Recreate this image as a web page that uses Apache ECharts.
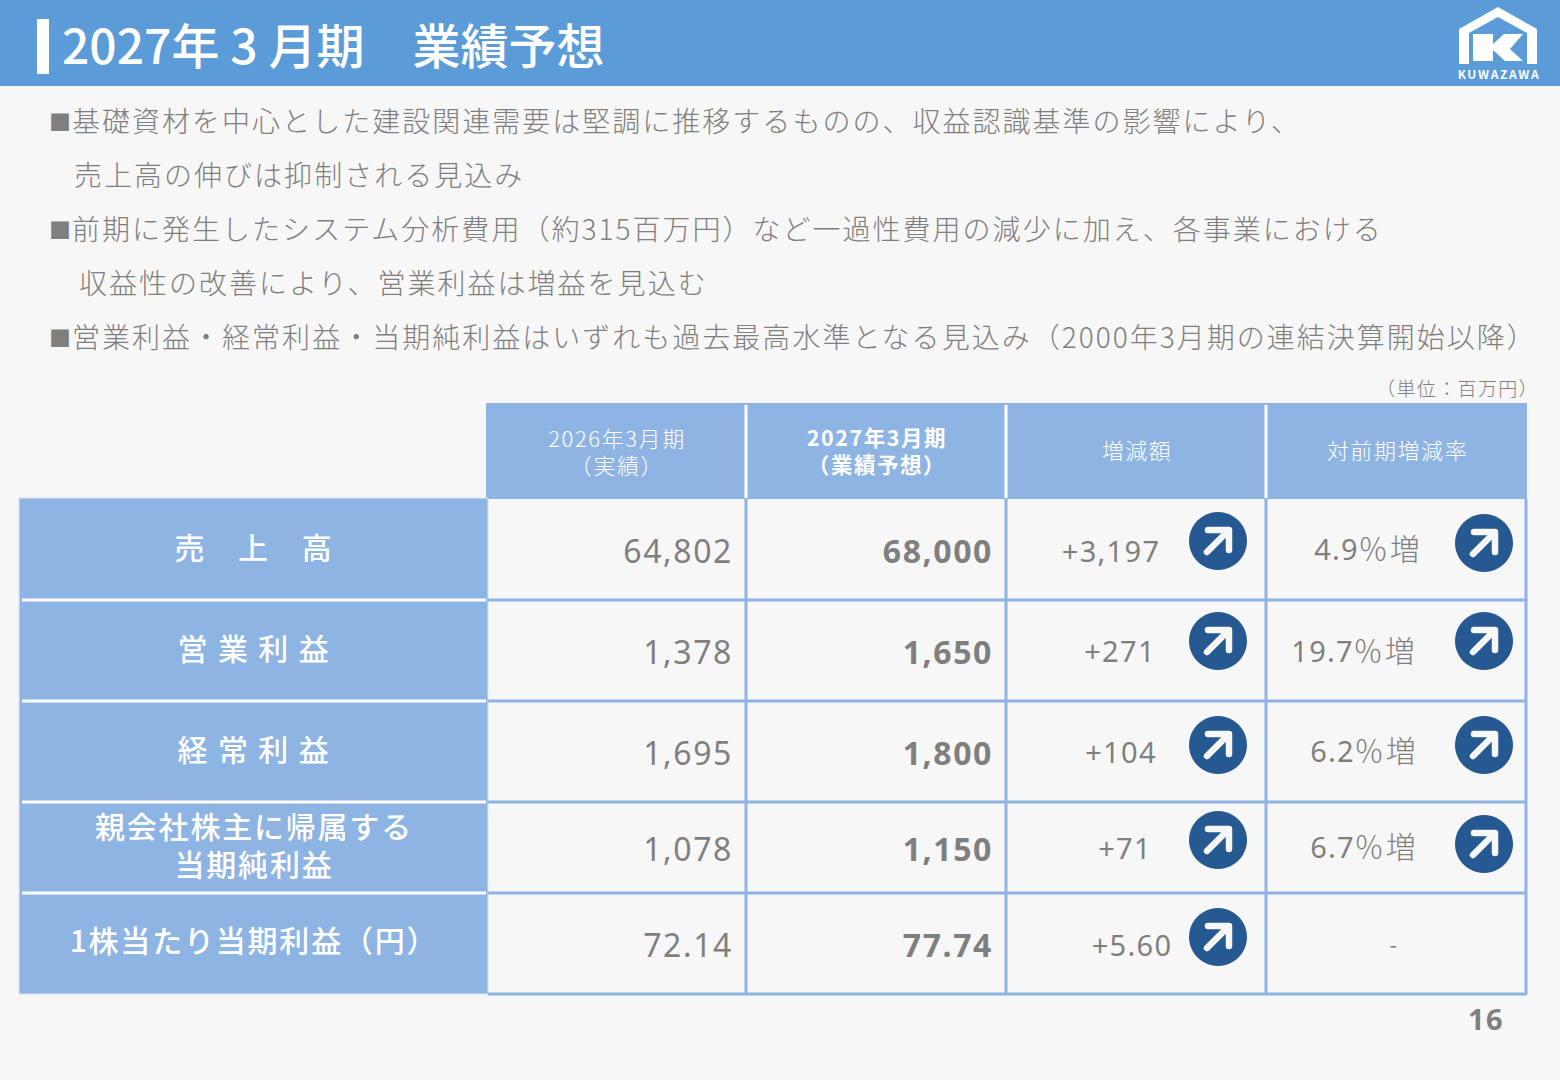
<!DOCTYPE html>
<html>
<head>
<meta charset="utf-8">
<style>
  html, body { margin: 0; padding: 0; background: #f7f7f7; }
  #main { width: 1560px; height: 1080px; }
  /* canvas has no tracking in zrender, the slide text is set with about 2px */
  #main text { letter-spacing: 0.072em; }
  #main text[style*="48px"] { letter-spacing: 0; }
  #main text[style*="32px"] { letter-spacing: 0.05em; }
  #main text[style*="29px"] { letter-spacing: 0.045em; }
  #main text[style*="30px"] { letter-spacing: 0.06em; }
  #main text[style*="12px"] { letter-spacing: 0.14em; }
</style>
<script src="https://cdn.jsdelivr.net/npm/echarts@6/dist/echarts.min.js"></script>
</head>
<body>
<div id="main"></div>
<script>
const title = '2027年 3 月期　業績予想';
const bullet = '■';
const bodyLines = [
  '基礎資材を中心とした建設関連需要は堅調に推移するものの、収益認識基準の影響により、',
  '売上高の伸びは抑制される見込み',
  '前期に発生したシステム分析費用（約315百万円）など一過性費用の減少に加え、各事業における',
  '収益性の改善により、営業利益は増益を見込む',
  '営業利益・経常利益・当期純利益はいずれも過去最高水準となる見込み（2000年3月期の連結決算開始以降）'
];
const unitLabel = '（単位：百万円）';
const headers = ['2026年3月期\n（実績）', '2027年3月期\n（業績予想）', '増減額', '対前期増減率'];
const rowLabels = ['売　上　高', '営 業 利 益', '経 常 利 益', '親会社株主に帰属する\n当期純利益', '1株当たり当期利益（円）'];
const actual = ['64,802', '1,378', '1,695', '1,078', '72.14'];
const forecast = ['68,000', '1,650', '1,800', '1,150', '77.74'];
const change = ['+3,197', '+271', '+104', '+71', '+5.60'];
const rate = ['4.9', '19.7', '6.2', '6.7'];
const rateUnit = '％増';
const rateNone = '-';
const pageNo = '16';

// layout, measured on the slide
const colX = [486, 746, 1006, 1266, 1527];
const rowY = [499, 600, 701, 802, 893, 994];
const changeX = [1111, 1120, 1121, 1125, 1132];
const changeY = [550, 650, 751, 847, 944];
const rateX = [1358, 1353, 1354, 1354];
const rateY = [548, 650, 750, 846];
const valueY = [550, 651, 752, 848, 944];
const arrowChange = [[1218, 541], [1218, 641], [1218, 745], [1218, 840], [1218, 937]];
const arrowRate = [[1484, 543], [1484, 641], [1484, 745], [1484, 844]];
const labelY = [546, 647, 748, 844, 939];
const bodyX = [72, 74, 72, 79, 72];

const JP = '"Noto Sans CJK JP", "Noto Sans", sans-serif';
const LATIN = '"Noto Sans", sans-serif';
const BLUE = '#8eb4e3';
const HEAD = '#5b9bd8';
const GREY = '#7f7f7f';

function text(str, x, y, size, opt) {
  opt = opt || {};
  return {
    type: 'text', silent: true, x: x, y: y,
    style: {
      text: str, fontFamily: opt.family || JP, fontSize: size, lineHeight: opt.lineHeight,
      fontWeight: opt.weight || 300, fill: opt.color || GREY,
      textAlign: opt.align || 'left', textVerticalAlign: 'middle'
    }
  };
}
function rect(x, y, w, h, fill) {
  return { type: 'rect', silent: true, shape: { x: x, y: y, width: w, height: h }, style: { fill: fill } };
}
function line(x1, y1, x2, y2, color, width) {
  return { type: 'line', silent: true, shape: { x1: x1, y1: y1, x2: x2, y2: y2 }, style: { stroke: color, lineWidth: width } };
}
function arrow(c) {
  const x = c[0], y = c[1];
  return [
    { type: 'circle', silent: true, shape: { cx: x, cy: y, r: 29 }, style: { fill: '#265891' } },
    { type: 'polyline', silent: true,
      shape: { points: [[x - 10, y - 11], [x + 11, y - 11], [x + 11, y + 9]] },
      style: { stroke: '#f7f7f7', lineWidth: 6.5, fill: null, lineCap: 'round', lineJoin: 'round' } },
    { type: 'line', silent: true,
      shape: { x1: x + 9, y1: y - 9, x2: x - 11, y2: y + 11 },
      style: { stroke: '#f7f7f7', lineWidth: 6.5, lineCap: 'round' } }
  ];
}

let els = [];

// title band
els.push(rect(0, 0, 1560, 86, HEAD));
els.push(rect(37, 19, 12, 55, '#ffffff'));
els.push(text(title, 62, 43, 48, { color: '#ffffff', weight: 500 }));

// logo
els.push({ type: 'polygon', silent: true,
  shape: { points: [[1459, 64], [1459, 29], [1498, 7], [1537, 29], [1537, 64], [1527, 64], [1527, 33], [1498, 17], [1469, 33], [1469, 64]] },
  style: { fill: '#ffffff' } });
els.push({ type: 'polygon', silent: true,
  shape: { points: [[1473, 34], [1493, 34], [1493, 44], [1504, 34], [1523, 34], [1510, 49], [1523, 61], [1505, 61], [1493, 50], [1493, 61], [1473, 61]] },
  style: { fill: '#ffffff' } });
els.push(text('KUWAZAWA', 1499, 73, 12, { color: '#ffffff', weight: 700, align: 'center' }));

// body text
bodyLines.forEach(function (s, i) {
  if (i % 2 === 0) els.push(text(bullet, 49, 120 + i * 54, 22));
  els.push(text(s, bodyX[i], 120 + i * 54, 28));
});
els.push(text(unitLabel, 1539, 387, 19, { align: 'right' }));

// table fills and rules
els.push(rect(colX[0], 403, colX[4] - colX[0], rowY[0] - 403, BLUE));
els.push({ type: 'rect', silent: true,
  shape: { x: 19, y: rowY[0] - 1, width: colX[0] + 2 - 19, height: rowY[5] + 1 - rowY[0] },
  style: { fill: BLUE, stroke: '#dce6f4', lineWidth: 1 } });
for (let i = 1; i < 4; i++) {
  els.push(line(colX[i], 405, colX[i], rowY[0] - 1, '#ffffff', 3));
  els.push(line(colX[i], rowY[0], colX[i], rowY[5], BLUE, 3));
}
els.push(line(colX[4] - 1, rowY[0], colX[4] - 1, rowY[5], BLUE, 3));
for (let i = 1; i < 6; i++) {
  els.push(line(colX[0] + 2, rowY[i], colX[4], rowY[i], BLUE, 3));
  if (i < 5) els.push(line(22, rowY[i], colX[0], rowY[i], '#ffffff', 3));
}

// header labels
headers.forEach(function (h, i) {
  const cx = (colX[i] + colX[i + 1]) / 2 + 1;
  const y = h.indexOf('\n') > 0 ? 450 : 449;
  els.push(text(h, cx, y, i === 1 ? 21.5 : 22, { color: '#ffffff', align: 'center', weight: i === 1 ? 600 : 300, lineHeight: 27 }));
});

// row labels and values
rowLabels.forEach(function (l, i) {
  els.push(text(l, 254, labelY[i], 30, { color: '#ffffff', align: 'center', weight: 500, lineHeight: 38 }));
  els.push(text(actual[i], 733, valueY[i], 32, { family: LATIN, align: 'right', weight: 400 }));
  els.push(text(forecast[i], 993, valueY[i], 32, { family: LATIN, align: 'right', weight: 700 }));
  els.push(text(change[i], changeX[i], changeY[i], 29, { family: LATIN, align: 'center', weight: 400 }));
});
rate.forEach(function (r, i) {
  els.push(text(r, rateX[i] + 1, rateY[i], 29, { family: LATIN, align: 'right', weight: 400 }));
  els.push(text(rateUnit, rateX[i], rateY[i] - 1, 30));
});
els.push(text(rateNone, 1394, 943, 22, { align: 'center', weight: 400 }));
arrowChange.forEach(function (c) { els = els.concat(arrow(c)); });
arrowRate.forEach(function (c) { els = els.concat(arrow(c)); });

els.push(text(pageNo, 1486, 1018, 29, { family: LATIN, align: 'center', weight: 700 }));

const myChart = echarts.init(document.getElementById('main'), null, { renderer: 'svg' });
myChart.setOption({
  backgroundColor: '#f7f7f7',
  animation: false,
  graphic: { elements: els }
});
</script>
</body>
</html>
